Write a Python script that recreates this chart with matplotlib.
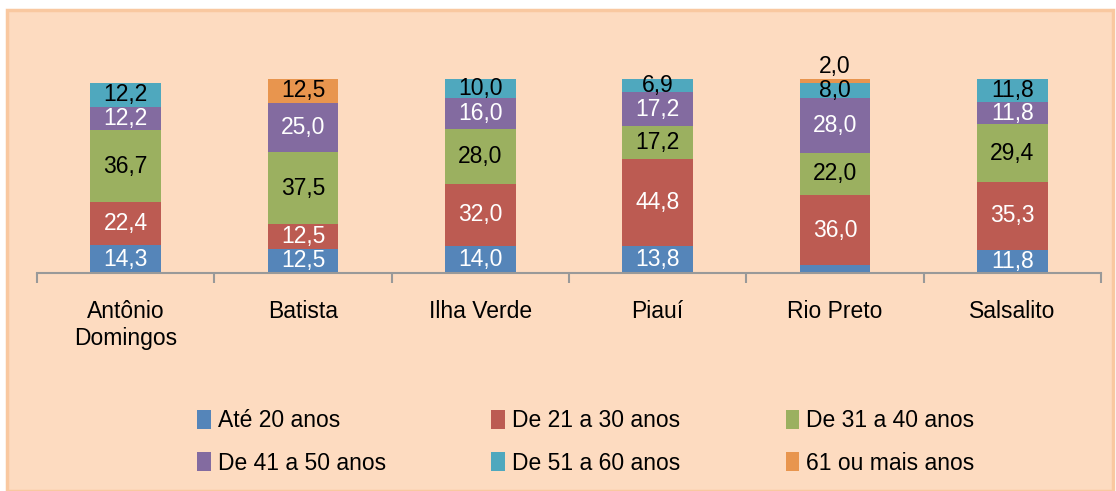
import matplotlib.pyplot as plt
from matplotlib.patches import Rectangle

plt.rcParams['font.family'] = ['Liberation Sans Narrow', 'Liberation Sans', 'DejaVu Sans']

localidades = ["Antônio\nDomingos", "Batista", "Ilha Verde", "Piauí", "Rio Preto", "Salsalito"]
faixas = ["Até 20 anos", "De 21 a 30 anos", "De 31 a 40 anos",
          "De 41 a 50 anos", "De 51 a 60 anos", "61 ou mais anos"]

ate20 = [14.3, 12.5, 14.0, 13.8, 4.0, 11.8]
de21_30 = [22.4, 12.5, 32.0, 44.8, 36.0, 35.3]
de31_40 = [36.7, 37.5, 28.0, 17.2, 22.0, 29.4]
de41_50 = [12.2, 25.0, 16.0, 17.2, 28.0, 11.8]
de51_60 = [12.2, 0.0, 10.0, 6.9, 8.0, 11.8]
mais61 = [0.0, 12.5, 0.0, 0.0, 2.0, 0.0]

series = [ate20, de21_30, de31_40, de41_50, de51_60, mais61]
cores = ["#5585B9", "#BC5B52", "#9BB060", "#836BA0", "#4FA8BE", "#E8954E"]
cor_texto = ["white", "white", "black", "white", "black", "black"]

bg = "#FDDBC0"
fig = plt.figure(figsize=(11.16, 4.91), dpi=100)
fig.patch.set_facecolor("white")
fig.patches.append(Rectangle((7 / 1116, 0), 1106 / 1116, 481 / 491, transform=fig.transFigure,
                             facecolor=bg, edgecolor="#F9C8A0", lw=2.5, zorder=-1))

# axes: x from 37 to 1101 px, baseline at y=273, 100 at y=78
ax = fig.add_axes([37 / 1116, (491 - 273) / 491, 1064 / 1116, 233 / 491])
ax.set_facecolor("none")
ax.set_xlim(-0.5, 5.5)
ax.set_ylim(0, 120)

x = range(len(localidades))
base = [0.0] * len(localidades)
barras = []
for vals, cor, ct, nome in zip(series, cores, cor_texto, faixas):
    b = ax.bar(x, vals, width=0.4, bottom=base, color=cor, label=nome, zorder=2)
    barras.append(b)
    for i, v in enumerate(vals):
        if v <= 0 or (nome == "Até 20 anos" and v < 5):
            continue
        txt = f"{v:.1f}".replace(".", ",")
        if v < 4:
            ax.text(i, base[i] + v + 0.3, txt, ha="center", va="bottom", fontsize=16.5, color="black", zorder=3)
        else:
            ax.text(i, base[i] + v / 2, txt, ha="center", va="center", fontsize=16.5, color=ct, zorder=3)
    base = [b + v for b, v in zip(base, vals)]

for s in ["top", "right", "left"]:
    ax.spines[s].set_visible(False)
ax.spines["bottom"].set_color("#999999")
ax.spines["bottom"].set_linewidth(1.5)
ax.set_yticks([])
ax.set_xticks([i - 0.5 for i in range(len(localidades) + 1)])
ax.set_xticklabels([])
ax.tick_params(axis="x", length=7, width=1.5, color="#999999")
for i, nome in enumerate(localidades):
    ax.text(i, -14, nome, ha="center", va="top", fontsize=16.5, linespacing=1.2)

# legend filled row by row
ordem = [0, 3, 1, 4, 2, 5]
fig.legend([barras[k] for k in ordem], [faixas[k] for k in ordem],
           loc="center", bbox_to_anchor=(0.525, 0.1), ncol=3, frameon=False, fontsize=16.5,
           handlelength=0.6, handleheight=0.9, handletextpad=0.3, columnspacing=4.6,
           labelspacing=0.85)

fig.savefig("out.png", dpi=100, facecolor=fig.get_facecolor())
